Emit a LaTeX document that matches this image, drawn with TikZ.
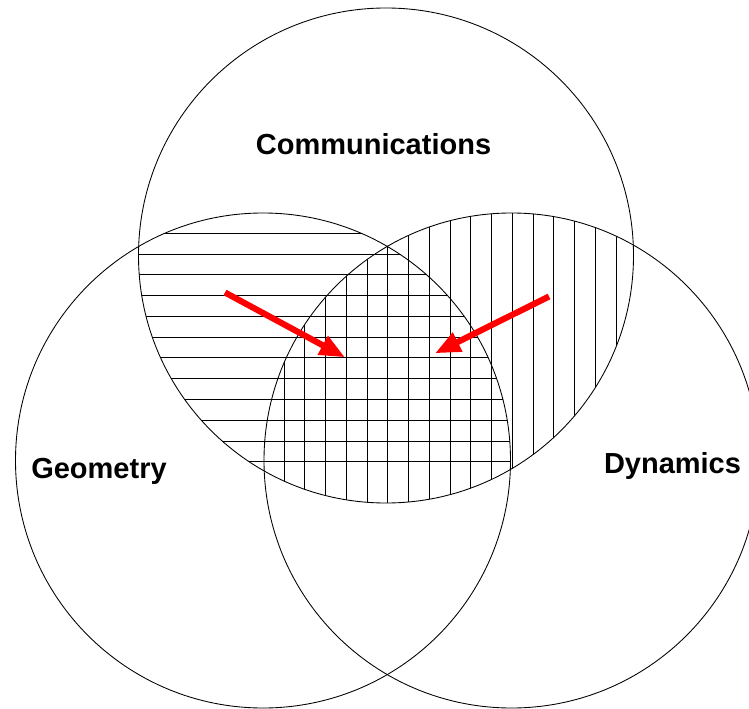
\documentclass[tikz,border=0pt]{standalone}
\usepackage{fontspec}
\setmainfont{Liberation Sans}
\usetikzlibrary{arrows.meta}
\tikzset{
  circ/.style={draw=black, line width=0.65pt},
  hatch/.style={draw=black, line width=0.6pt},
  redarrow/.style={draw=red, line width=4.6pt, -{Triangle[length=19pt,width=15pt]}},
  lbl/.style={font=\fontsize{21.75}{26}\selectfont\bfseries, anchor=base, inner sep=0pt}
}
\begin{document}
\begin{tikzpicture}[x=0.75pt, y=-0.75pt]
\clip (0,0) rectangle (749,709);
\fill[white] (0,0) rectangle (749,709);
\coordinate (ct) at (386,255.5);
\coordinate (cl) at (263,460.5);
\coordinate (cr) at (511.5,460.5);
% horizontal hatching: top & left
\begin{scope}
  \clip (ct) circle[radius=247.5];
  \clip (cl) circle[radius=247.5];
  \foreach \i in {0,...,11} {
    \draw[hatch] (100,{233.3+20.76*\i}) -- (560,{233.3+20.76*\i});
  }
\end{scope}
% vertical hatching: top & right
\begin{scope}
  \clip (ct) circle[radius=247.5];
  \clip (cr) circle[radius=247.5];
  \foreach \i in {0,...,16} {
    \draw[hatch] ({284+20.75*\i},150) -- ({284+20.75*\i},520);
  }
\end{scope}
\draw[circ] (ct) circle[radius=247.5];
\draw[circ] (cl) circle[radius=247.5];
\draw[circ] (cr) circle[radius=247.5];
\coordinate (a1s) at (225,292.5);
\coordinate (a1e) at (345,357.3);
\coordinate (a2s) at (549,296.5);
\coordinate (a2e) at (435,353.3);
\draw[redarrow] (a1s) -- (a1e);
\draw[redarrow] (a2s) -- (a2e);
\node[lbl] (comm) at (373.5,154.3) {Communications};
\node[lbl] (geom) at (99,478) {Geometry};
\node[lbl] (dyn) at (672.5,473.3) {Dynamics};
\end{tikzpicture}
\end{document}
